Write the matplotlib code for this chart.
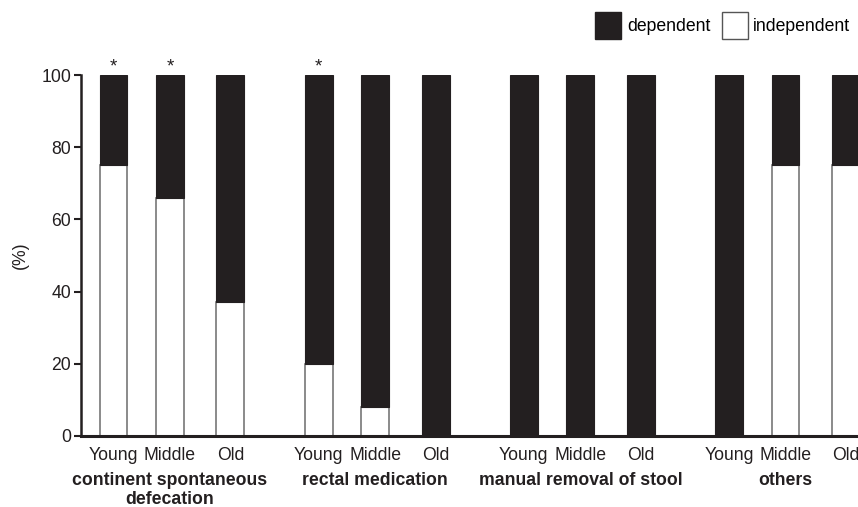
import matplotlib
matplotlib.use("Agg")
from matplotlib import pyplot as plt
from matplotlib.patches import Patch

plt.rcParams['font.family'] = ['Liberation Sans', 'DejaVu Sans']

# data
groups = ["continent spontaneous\ndefecation", "rectal medication",
          "manual removal of stool", "others"]
ages = ["Young", "Middle", "Old"]
# % independent per group (Young, Middle, Old)
independent = [
    [75, 66, 37],
    [20, 8, 0],
    [0, 0, 0],
    [0, 75, 75],
]
# significance star above bar
starred = [
    [True, True, False],
    [True, False, False],
    [False, False, False],
    [False, False, False],
]

dark = '#231f20'
fs = 12.7

fig = plt.figure(figsize=(8.58, 5.07), dpi=100)
ax = fig.add_axes([81 / 858, 71 / 507, 777 / 858, 361 / 507])

# layout
group_pitch = 3.6
offsets = [0, 0.99, 2.05]
width = 0.49

xs, labels = [], []
for g, grp in enumerate(groups):
    for i, age in enumerate(ages):
        x = g * group_pitch + offsets[i]
        ind = independent[g][i]
        dep = 100 - ind
        if ind > 0:
            ax.bar(x, ind, width, color='white', edgecolor='#777777', linewidth=1.2)
        ax.bar(x, dep, width, bottom=ind, color=dark, edgecolor=dark, linewidth=0.8)
        if starred[g][i]:
            ax.text(x, 100, '*', ha='center', va='bottom', fontsize=13.5, color=dark)
        xs.append(x)
        labels.append(age)
    ax.text(g * group_pitch + offsets[1], -10.0, grp, ha='center', va='top',
            fontsize=fs, fontweight='bold', color=dark, linespacing=1.15)

ax.set_xticks(xs)
ax.set_xticklabels(labels, fontsize=fs, color=dark)
for lbl in ax.get_xticklabels():
    lbl.set_verticalalignment('baseline')
ax.tick_params(axis='x', length=0, pad=17)
ax.set_yticks([0, 20, 40, 60, 80, 100])
ax.tick_params(axis='y', labelsize=fs, labelcolor=dark, length=5, width=1.5,
               color=dark, pad=2)
ax.set_ylim(0, 100)
ax.set_xlim((81 - 113.5) / 57, (858 - 113.5) / 57)
ax.set_ylabel('(%)', fontsize=fs, color=dark)
ax.yaxis.set_label_coords((29 - 81) / 777, 0.5)

for s in ['top', 'right']:
    ax.spines[s].set_visible(False)
ax.spines['left'].set_linewidth(1.8)
ax.spines['bottom'].set_linewidth(2.2)
ax.spines['left'].set_color(dark)
ax.spines['bottom'].set_color(dark)

handles = [Patch(facecolor=dark, edgecolor=dark, label='dependent'),
           Patch(facecolor='white', edgecolor='#555555', label='independent')]
fig.legend(handles=handles, loc='upper left', bbox_to_anchor=(595 / 858, 1 - 12 / 507),
           ncol=2, frameon=False, fontsize=fs, handlelength=1.5, handleheight=2.0,
           handletextpad=0.3, columnspacing=0.65, borderpad=0, borderaxespad=0)

plt.savefig('out.png', dpi=100)
